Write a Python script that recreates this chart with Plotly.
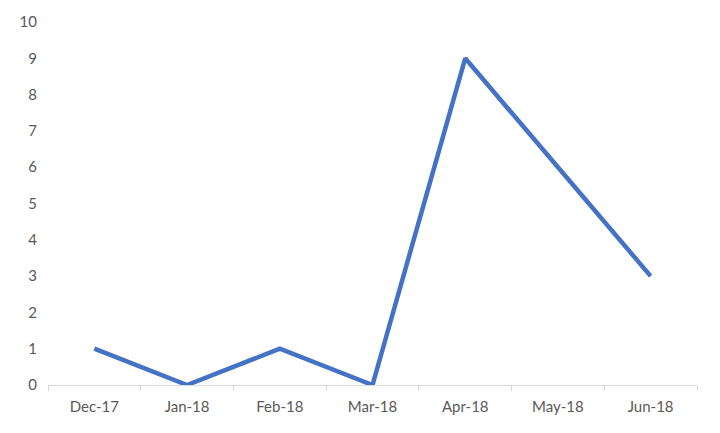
import plotly.graph_objects as go

months = ["Dec-17", "Jan-18", "Feb-18", "Mar-18", "Apr-18", "May-18", "Jun-18"]
values = [1, 0, 1, 0, 9, 6, 3]

fig = go.Figure()
fig.add_trace(go.Scatter(
    x=months, y=values, mode="lines",
    line=dict(color="#4472C4", width=4.5),
))

fig.update_layout(
    width=720, height=433,
    margin=dict(l=40, r=31, t=14, b=56),
    paper_bgcolor="white", plot_bgcolor="white",
    showlegend=False,
    font=dict(family="Lato", size=15, color="#595959"),
)
fig.update_xaxes(
    type="category", range=[-0.5, 6.5], automargin=False,
    showline=True, linecolor="#d9d9d9", linewidth=1,
    ticks="outside", tickson="boundaries", ticklen=5, tickcolor="#d9d9d9",
    showgrid=False, zeroline=False,
    ticklabelstandoff=8,
)
fig.update_yaxes(
    range=[0, 10], dtick=1, tick0=0, automargin=False,
    showline=False, showgrid=False, zeroline=False,
    ticks="", ticklabelstandoff=10,
)

fig.write_html("out.html")
